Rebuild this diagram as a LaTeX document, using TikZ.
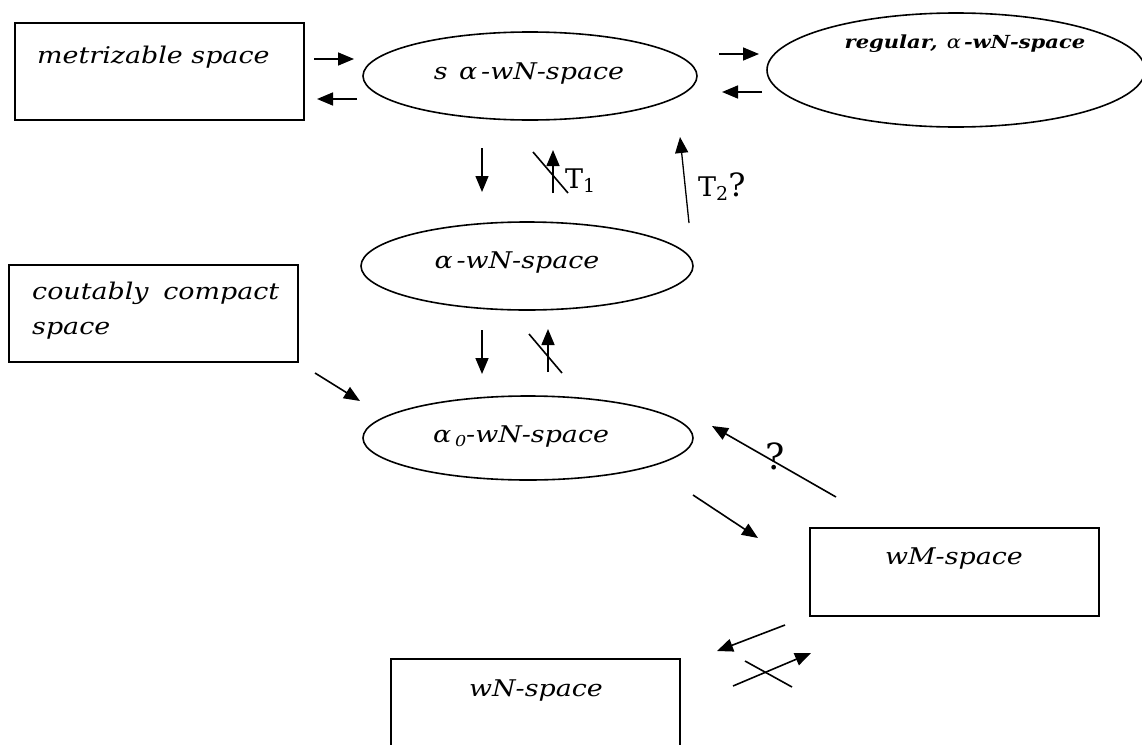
\documentclass[tikz,border=0pt]{standalone}
\usepackage{fontspec}
\setmainfont{DejaVu Serif}
\newfontfamily\lblfont{DejaVu Serif}[FakeStretch=1.17]
\usetikzlibrary{shapes.geometric,arrows.meta}
\tikzset{
  frame/.style={draw, line width=1.6pt, inner sep=0pt},
  oval/.style={draw, ellipse, line width=1.6pt, inner sep=0pt},
  lbl/.style={font=\lblfont\fontsize{23}{35}\selectfont\itshape, inner sep=0pt},
  small/.style={font=\lblfont\fontsize{18}{22}\selectfont\itshape\bfseries, inner sep=0pt},
  tlbl/.style={font=\fontsize{27}{30}\selectfont, inner sep=0pt, anchor=west},
  arr/.style={line width=1.6pt, -{Triangle[length=16pt,width=13pt]}},
  cross/.style={line width=1.6pt}
}
\newcommand{\subnum}[1]{{\fontsize{15}{18}\selectfont\raisebox{-4pt}{#1}}}
\newcommand{\tsub}[1]{{\fontsize{19}{22}\selectfont\raisebox{-4pt}{#1}}}
\begin{document}
\begin{tikzpicture}[x=1pt,y=-1pt]
\useasboundingbox (0,0) rectangle (1142,744);
\clip (0,0) rectangle (1142,744);
% boxes
\node[frame, minimum width=289pt, minimum height=97pt, anchor=north west] (metr) at (14,22) {};
\node[lbl, anchor=west] (metrt) at (37,57) {metrizable space};
\node[frame, minimum width=289pt, minimum height=97pt, anchor=north west] (cc) at (8,264) {};
\node[lbl, anchor=north west, align=left, text width=247pt] (cct) at (32,282) {coutably\hfill compact\\space};
\node[frame, minimum width=289pt, minimum height=88pt, anchor=north west] (wm) at (809,527) {};
\node[lbl] (wmt) at (954,558) {wM-space};
\node[frame, minimum width=289pt, minimum height=110pt, anchor=north west] (wn) at (390,658) {};
\node[lbl] (wnt) at (536,690) {wN-space};
% ellipses
\node[oval, minimum width=334pt, minimum height=88pt] (sa) at (530,76) {};
\node[lbl] (sat) at (529,74) {s\,\,\,α\,-wN-space};
\node[oval, minimum width=378pt, minimum height=114pt] (reg) at (956,70) {};
\node[small] (regt) at (965,44) {regular,\,\,\,{\mdseries α}\,-wN-space};
\node[oval, minimum width=332pt, minimum height=88pt] (aw) at (527,266) {};
\node[lbl] (awt) at (517,263) {α\,-wN-space};
\node[oval, minimum width=330pt, minimum height=84pt] (a0) at (528,438) {};
\node[lbl] (a0t) at (521,437) {α\,\subnum{0}-wN-space};
% arrow end points
\coordinate (m1a) at (314,59); \coordinate (m1b) at (354,59);
\coordinate (m2a) at (357,99); \coordinate (m2b) at (317,99);
\coordinate (r1a) at (719,54); \coordinate (r1b) at (759,54);
\coordinate (r2a) at (762,92); \coordinate (r2b) at (722,92);
\coordinate (d1a) at (482,148); \coordinate (d1b) at (482,192);
\coordinate (u1a) at (553,193); \coordinate (u1b) at (553,150);
\coordinate (x1a) at (533,152); \coordinate (x1b) at (568,193);
\coordinate (t2a) at (689,223); \coordinate (t2b) at (680,137);
\coordinate (d2a) at (482,330); \coordinate (d2b) at (482,374);
\coordinate (u2a) at (548,372); \coordinate (u2b) at (548,329);
\coordinate (x2a) at (529,334); \coordinate (x2b) at (562,373);
\coordinate (c1a) at (315,373); \coordinate (c1b) at (360,401);
\coordinate (qa) at (836,497); \coordinate (qb) at (712,426);
\coordinate (e1a) at (693,495); \coordinate (e1b) at (758,538);
\coordinate (f1a) at (785,625); \coordinate (f1b) at (717,651);
\coordinate (g1a) at (733,686); \coordinate (g1b) at (811,653);
\coordinate (x3a) at (745,661); \coordinate (x3b) at (792,687);
% arrows
\draw[arr] (m1a) -- (m1b);
\draw[arr] (m2a) -- (m2b);
\draw[arr] (r1a) -- (r1b);
\draw[arr] (r2a) -- (r2b);
\draw[arr, line width=1.3pt] (d1a) -- (d1b);
\draw[arr] (u1a) -- (u1b);
\draw[cross] (x1a) -- (x1b);
\draw[arr, line width=1.3pt] (t2a) -- (t2b);
\draw[arr] (d2a) -- (d2b);
\draw[arr] (u2a) -- (u2b);
\draw[cross] (x2a) -- (x2b);
\draw[arr] (c1a) -- (c1b);
\draw[arr] (qa) -- (qb);
\draw[arr] (e1a) -- (e1b);
\draw[arr] (f1a) -- (f1b);
\draw[arr] (g1a) -- (g1b);
\draw[cross] (x3a) -- (x3b);
% labels
\node[tlbl] (t1) at (565,181) {T\tsub{1}};
\node[tlbl] (t2) at (698,187) {T\tsub{2}{\fontsize{32}{34}\selectfont ?}};
\node[tlbl, anchor=center, font=\fontsize{36}{38}\selectfont] (q) at (775,456) {?};
\end{tikzpicture}
\end{document}
